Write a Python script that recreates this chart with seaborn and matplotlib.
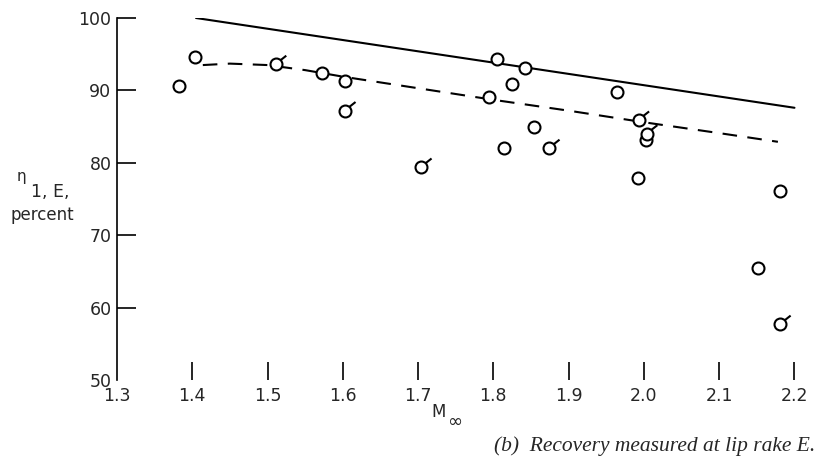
import numpy as np
import pandas as pd
import seaborn as sns
import matplotlib.pyplot as plt
from matplotlib.path import Path

# ---- data ----
mach_plain = [1.382, 1.404, 1.572, 1.603, 1.805, 1.842, 1.825, 1.794, 1.854, 1.814,
              1.964, 2.003, 1.992, 2.181, 2.151]
eta_plain = [90.6, 94.6, 92.4, 91.3, 94.3, 93.1, 90.9, 89.1, 85.0, 82.0,
             89.8, 83.1, 77.9, 76.1, 65.5]

mach_flag = [1.511, 1.603, 1.704, 1.874, 1.993, 2.004, 2.181]
eta_flag = [93.6, 87.2, 79.4, 82.0, 85.9, 84.0, 57.7]

solid_mach = [1.405, 2.200]
solid_eta = [100.0, 87.6]

dash_mach = [1.414, 1.45, 1.50, 1.55, 1.60, 1.70, 1.80, 1.90, 2.00, 2.10, 2.178]
dash_eta = [93.5, 93.7, 93.5, 92.8, 91.9, 90.3, 88.7, 87.2, 85.6, 84.1, 82.9]

x_ticks = [1.3, 1.4, 1.5, 1.6, 1.7, 1.8, 1.9, 2.0, 2.1, 2.2]
x_ticklabels = ["1.3", "1.4", "1.5", "1.6", "1.7", "1.8", "1.9", "2.0", "2.1", "2.2"]
y_ticks = [50, 60, 70, 80, 90, 100]
y_ticklabels = ["50", "60", "70", "80", "90", "100"]

# ---- style ----
sns.set_style("white")
plt.rcParams["font.family"] = ["DejaVu Sans"]
plt.rcParams["mathtext.fontset"] = "dejavusans"

W, H = 826, 470
fig = plt.figure(figsize=(W / 100, H / 100), dpi=100)
x0, x1 = 117, 802
y_top, y_bot = 18, 380
ax = fig.add_axes([x0 / W, (H - y_bot) / H, (x1 - x0) / W, (y_bot - y_top) / H])
ax.set_xlim(1.3, 2.21)
ax.set_ylim(50, 100)

lw = 1.5
# lines
sns.lineplot(x=solid_mach, y=solid_eta, ax=ax, color="black", lw=lw, sort=False)
sns.lineplot(x=dash_mach, y=dash_eta, ax=ax, color="black", lw=lw, sort=False,
             dashes=False, linestyle=(0, (7, 5)))

# circles
ms = 8.6
df_all = pd.DataFrame({"M": mach_plain + mach_flag, "eta": eta_plain + eta_flag})
sns.scatterplot(data=df_all, x="M", y="eta", ax=ax, marker="o", s=ms ** 2,
                color="black", facecolor="white", edgecolor="black",
                linewidth=lw, zorder=3)

# flags (tails on the circles)
ext = 1.75
flag_path = Path([(-ext, -ext), (0.75, 0.66), (ext, 1.45)],
                 [Path.MOVETO, Path.MOVETO, Path.LINETO])
df_flag = pd.DataFrame({"M": mach_flag, "eta": eta_flag})
sns.scatterplot(data=df_flag, x="M", y="eta", ax=ax, marker=flag_path,
                s=(ms * ext) ** 2, color="black", facecolor="none",
                edgecolor="black", linewidth=lw, zorder=4)

# axes styling
for side in ["top", "right", "bottom"]:
    ax.spines[side].set_visible(False)
ax.spines["left"].set_linewidth(1.2)
ax.spines["left"].set_color("black")

ax.set_xticks(x_ticks)
ax.set_xticklabels(x_ticklabels)
ax.set_yticks(y_ticks)
ax.set_yticklabels(y_ticklabels)
ax.tick_params(axis="x", direction="in", length=13, width=1.2, color="black",
               pad=5, labelsize=12.5, bottom=True)
ax.tick_params(axis="y", direction="in", length=14, width=1.2, color="black",
               pad=4, labelsize=12.5, left=True)
ax.xaxis.get_major_ticks()[0].tick1line.set_visible(False)
ax.yaxis.get_major_ticks()[0].tick1line.set_visible(False)
ax.set_xlabel("")
ax.set_ylabel("")
ax.grid(False)

# y label
fig.text(21 / W, 1 - 177 / H, "η", ha="center", va="center", fontsize=11)
fig.text(50 / W, 1 - 192 / H, "1, E,", ha="center", va="center", fontsize=12.5)
fig.text(42 / W, 1 - 215 / H, "percent", ha="center", va="center", fontsize=12)

# x label
fig.text(439 / W, 1 - 412 / H, "M", ha="center", va="center", fontsize=12)
fig.text(455 / W, 1 - 422 / H, "∞", ha="center", va="center", fontsize=13)

# caption
fig.text(815 / W, 1 - 446 / H, "(b)  Recovery measured at lip rake E.", ha="right",
         va="center", fontsize=15.5, style="italic", family="Liberation Serif")

fig.savefig("out.png", dpi=100)
